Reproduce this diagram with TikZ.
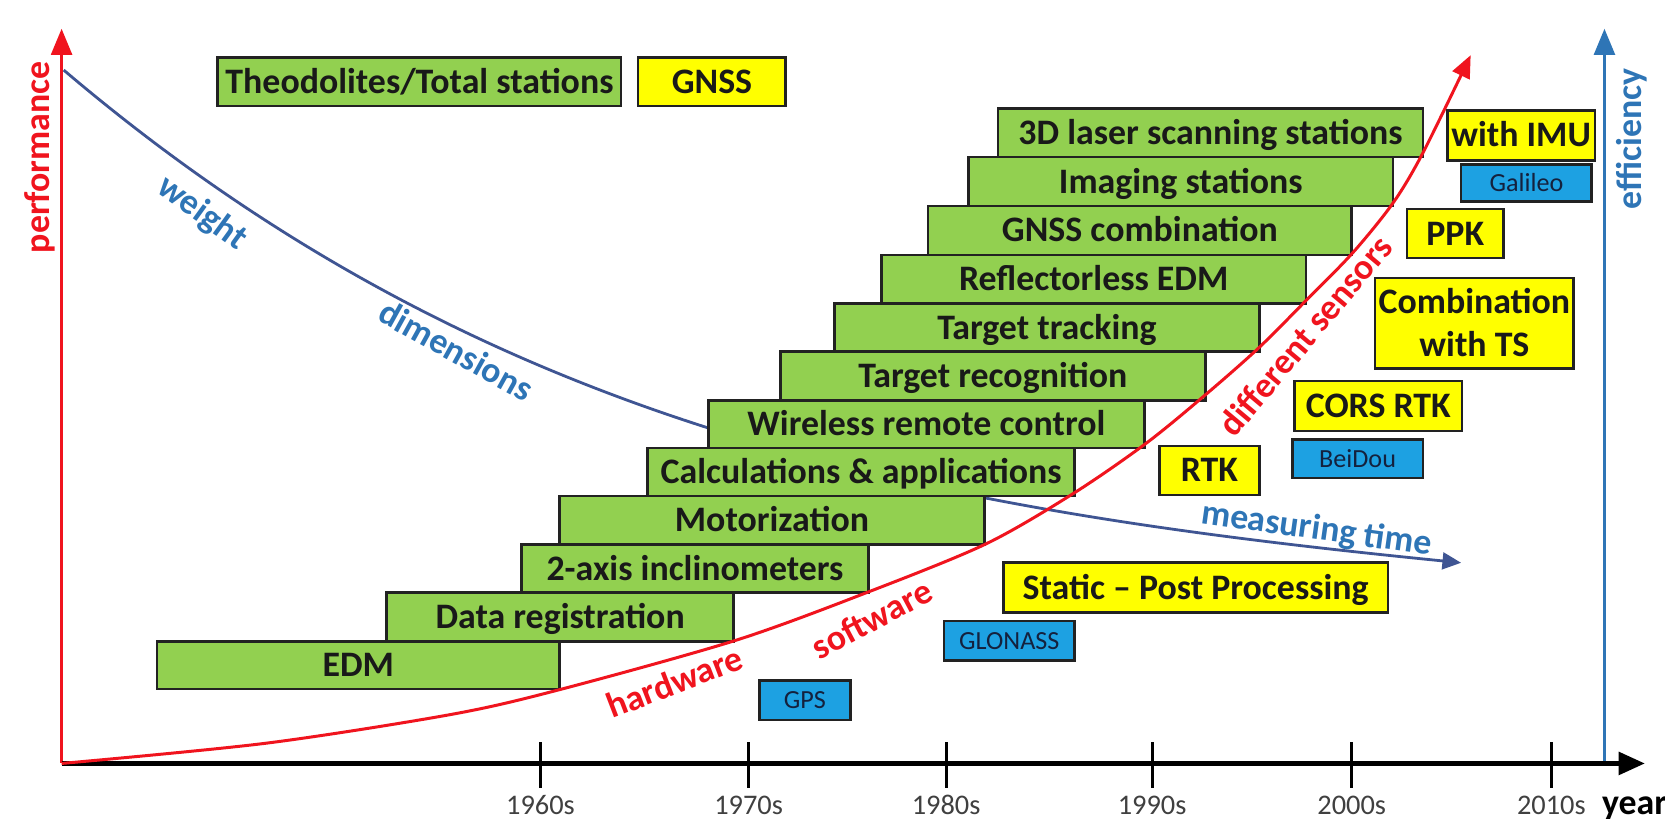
\documentclass[tikz,border=0pt]{standalone}
\usepackage{fontspec}
\setmainfont{Carlito}
\usetikzlibrary{arrows.meta}
\definecolor{grn}{HTML}{92D050}
\definecolor{yel}{HTML}{FFFF00}
\definecolor{sky}{HTML}{1DA1E2}
\definecolor{navy}{HTML}{14213D}
\definecolor{edgec}{HTML}{222222}
\definecolor{lblue}{HTML}{2E75B6}
\definecolor{curveblue}{HTML}{3F5593}
\definecolor{myred}{HTML}{F0141E}
\definecolor{ticktext}{HTML}{404040}
\newcommand\mkbox[7]{\node[#1, minimum width={(#5-#3)*0.01cm}, minimum height={(#6-#4)*0.01cm}] (#2) at ({(#3+#5)/2},{(#4+#6)/2}) {#7};}
\tikzset{
 bx/.style={draw=edgec, line width=0.7pt, inner sep=0pt, outer sep=0pt, text height=6.2pt, text depth=0pt, font=\bfseries\fontsize{9.6}{11.4}\selectfont, text=black!90},
 gbx/.style={bx, fill=grn},
 ybx/.style={bx, fill=yel},
 sbx/.style={bx, fill=sky, font=\fontsize{7}{8}\selectfont, text=navy, text height=4.5pt},
 lbl/.style={font=\bfseries\fontsize{9.6}{11}\selectfont, inner sep=0pt},
 tk/.style={font=\fontsize{7.6}{8}\selectfont, text=ticktext, anchor=base},
 tip/.style={-{Triangle[length=6pt,width=5pt]}},
}
\begin{document}
\begin{tikzpicture}[x=0.01cm, y=-0.01cm]
\fill[white] (0,0) rectangle (1568,771);
\useasboundingbox (0,0) rectangle (1568,771);

% blue decreasing curve (behind the boxes)
\coordinate (bw0) at (60,66);
\coordinate (bw1) at (1376,530);
\draw[curveblue, line width=0.75pt, -{Triangle[length=5pt,width=4.5pt]}] (bw0) .. controls (460,406) and (875,480) .. (bw1);

% green boxes
\mkbox{gbx}{theo}{205}{54}{585}{100}{Theodolites/Total stations}
\mkbox{gbx}{laser}{940}{102}{1340}{148}{3D laser scanning stations}
\mkbox{gbx}{imaging}{912}{148}{1312}{194}{Imaging stations}
\mkbox{gbx}{gcomb}{874}{194}{1273}{240}{GNSS combination}
\mkbox{gbx}{refl}{830}{240}{1230}{286}{Reflectorless EDM}
\mkbox{gbx}{track}{786}{286}{1186}{331}{Target tracking}
\mkbox{gbx}{recog}{735}{331}{1135}{377}{Target recognition}
\mkbox{gbx}{wire}{667}{377}{1078}{422}{Wireless remote control}
\mkbox{gbx}{calc}{610}{422}{1012}{467}{Calculations \& applications}
\mkbox{gbx}{motor}{527}{467}{927}{513}{Motorization}
\mkbox{gbx}{incl}{491}{513}{818}{558}{2-axis inclinometers}
\mkbox{gbx}{datareg}{364}{558}{691}{604}{Data registration}
\mkbox{gbx}{edm}{148}{604}{527}{649}{EDM}

% yellow boxes
\mkbox{ybx}{gnss}{601}{54}{740}{100}{GNSS}
\mkbox{ybx}{imu}{1363}{104}{1502}{151}{with IMU}
\mkbox{ybx}{ppk}{1325}{197}{1416}{243}{PPK}
\mkbox{ybx, align=center, text height=17.6pt}{combts}{1295}{262}{1482}{347}{Combination\\with TS}
\mkbox{ybx}{cors}{1219}{359}{1377}{406}{CORS RTK}
\mkbox{ybx}{rtk}{1092}{420}{1186}{466}{RTK}
\mkbox{ybx}{static}{945}{530}{1307}{577}{Static – Post Processing}

% blue boxes
\mkbox{sbx}{galileo}{1376}{155}{1499}{190}{Galileo}
\mkbox{sbx}{beidou}{1217}{414}{1340}{450}{BeiDou}
\mkbox{sbx}{glonass}{889}{585}{1012}{622}{GLONASS}
\mkbox{sbx}{gps}{715}{641}{801}{678}{GPS}

% axes
\coordinate (O) at (58,719);
\coordinate (ytop) at (58,27);
\coordinate (xend) at (1549,719);
\coordinate (ebot) at (1511,719);
\coordinate (etop) at (1511,27);
\draw[lblue, line width=1pt, -{Triangle[length=7pt,width=5.5pt]}] (ebot) -- (etop);
\draw[myred, line width=1pt, -{Triangle[length=7pt,width=5.5pt]}] (O) -- (ytop);
\draw[black, line width=1.2pt, -{Triangle[length=7pt,width=6pt]}] (O) -- (xend);

% red increasing curve
\draw[myred, line width=0.8pt, tip] plot[smooth, tension=0.5] coordinates {(58,719) (250,700) (424,673) (525,650) (693,603) (819,557) (929,512) (1012,464) (1080,417) (1135,372) (1185,328) (1229,284) (1274,238) (1312,191) (1340,144) (1385,52)};

% ticks and labels
\foreach \x/\t in {509/1960s, 705/1970s, 891/1980s, 1085/1990s, 1273/2000s, 1461/2010s}{
  \draw[black, line width=0.8pt] (\x,699) -- (\x,742);
  \node[tk] (t\t) at (\x,767) {\t};
}
\node[lbl, anchor=base west] (year) at (1508,767) {year};

% curve and axis labels
\node[lbl, text=myred, rotate=90] (perf) at (37.5,148) {performance};
\node[lbl, text=lblue, rotate=90] (eff) at (1537,131) {efficiency};
\node[lbl, text=lblue, rotate=-36] (weight) at (190,201) {weight};
\node[lbl, text=lblue, rotate=-29] (dims) at (430,330) {dimensions};
\node[lbl, text=lblue, rotate=-8] (mtime) at (1240,499) {measuring time};
\node[lbl, text=myred, rotate=21] (hw) at (635,642) {hardware};
\node[lbl, text=myred, rotate=28] (sw) at (821,583) {software};
\node[lbl, text=myred, rotate=50] (ds) at (1229,316) {different sensors};
\end{tikzpicture}
\end{document}
